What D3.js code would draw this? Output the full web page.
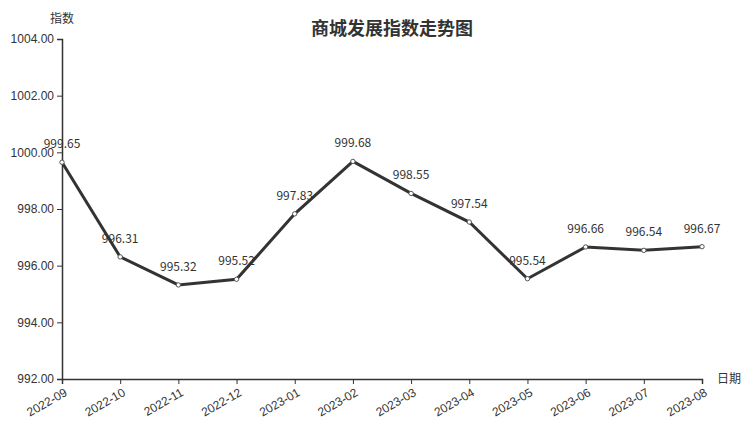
<!DOCTYPE html>
<html>
<head>
<meta charset="utf-8">
<script src="https://cdn.jsdelivr.net/npm/d3@7"></script>
<style>
  body { margin: 0; background: #fff; }
  svg { font-family: "Noto Sans CJK SC", "Noto Sans", sans-serif; }
  .axis path, .axis line { stroke: #333; }
  .axis text { fill: #333; font-size: 12px; }
</style>
</head>
<body>
<div id="chart"></div>
<script>
var months = ["2022-09","2022-10","2022-11","2022-12","2023-01","2023-02","2023-03","2023-04","2023-05","2023-06","2023-07","2023-08"];
var values = [999.65, 996.31, 995.32, 995.52, 997.83, 999.68, 998.55, 997.54, 995.54, 996.66, 996.54, 996.67];
var yTicks = [992, 994, 996, 998, 1000, 1002, 1004];

var width = 752, height = 427;
var margin = {top: 39, right: 50, bottom: 48, left: 62};
var w = width - margin.left - margin.right;
var h = height - margin.top - margin.bottom;

var svg = d3.select('#chart')
  .append("svg")
  .attr("width", width)
  .attr("height", height);

var g = svg.append("g")
  .attr("transform", "translate(" + margin.left + "," + margin.top + ")");

var x = d3.scalePoint()
  .domain(months)
  .range([0, w]);

var y = d3.scaleLinear()
  .domain([992, 1004])
  .range([h, 0]);

// x axis
var xAxis = g.append("g")
  .attr("class", "axis")
  .attr("transform", "translate(0," + h + ")")
  .call(d3.axisBottom(x).tickSizeOuter(0).tickSize(5));
xAxis.selectAll("text")
  .attr("x", 0)
  .attr("y", 0)
  .attr("dy", "0.75em")
  .attr("transform", "translate(1,8)rotate(-30)")
  .style("text-anchor", "end");
xAxis.select(".domain").attr("stroke-width", 1.5);

// y axis
var yAxis = g.append("g")
  .attr("class", "axis")
  .call(d3.axisLeft(y).tickValues(yTicks).tickSizeOuter(0).tickSize(5).tickFormat(d3.format(".2f")));
yAxis.select(".domain").attr("stroke-width", 1.5);

// line
g.append("path")
  .datum(values)
  .attr("fill", "none")
  .attr("stroke", "#333")
  .attr("stroke-width", 3)
  .attr("d", d3.line()
    .x(function (d, i) { return x(months[i]) })
    .y(function (d) { return y(d) })
  );

// points
g.append("g").selectAll("circle")
  .data(values)
  .enter().append("circle")
  .attr("cx", function (d, i) { return x(months[i]) })
  .attr("cy", function (d) { return y(d) })
  .attr("r", 2.2)
  .attr("fill", "#fff")
  .attr("stroke", "#555")
  .attr("stroke-width", 1);

// value labels
g.append("g").selectAll("text")
  .data(values)
  .enter().append("text")
  .attr("x", function (d, i) { return x(months[i]) })
  .attr("y", function (d) { return y(d) - 14 })
  .attr("text-anchor", "middle")
  .attr("fill", "#333")
  .style("font-size", "12px")
  .text(function (d) { return d.toFixed(2) });

// title
svg.append("text")
  .attr("x", 392)
  .attr("y", 35)
  .attr("text-anchor", "middle")
  .attr("fill", "#333")
  .style("font-size", "18px")
  .style("font-weight", "bold")
  .text("商城发展指数走势图");

// axis names
svg.append("text")
  .attr("x", margin.left)
  .attr("y", 23)
  .attr("text-anchor", "middle")
  .attr("fill", "#333")
  .style("font-size", "12px")
  .text("指数");

svg.append("text")
  .attr("x", margin.left + w + 15)
  .attr("y", margin.top + h + 4)
  .attr("text-anchor", "start")
  .attr("fill", "#333")
  .style("font-size", "12px")
  .text("日期");
</script>
</body>
</html>
